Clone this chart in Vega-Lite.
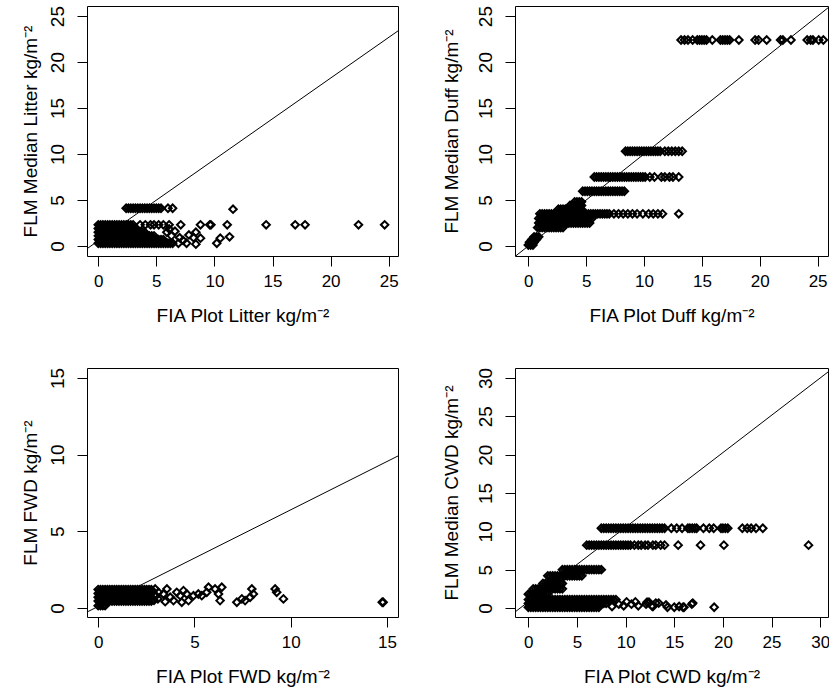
{
"$schema":"https://vega.github.io/schema/vega-lite/v6.json",
"background":"white",
"padding":{"left":20,"top":5,"right":0,"bottom":0},
"config":{"font":"Liberation Sans","view":{"stroke":"black","strokeWidth":1},
"axis":{"domain":false,"grid":false,"tickColor":"black","tickSize":10,"tickWidth":1,"labelColor":"black","labelFontSize":17,"titleColor":"black","titleFontSize":19,"titleFontWeight":"normal","labelFlush":false,"labelOverlap":false},
"axisX":{"labelPadding":7,"titlePadding":17},
"axisY":{"labelAngle":-90,"labelFontSize":19,"labelPadding":10,"titlePadding":8}},
"datasets":{
"litter":[
{"x":2.4,"y":4.1},{"x":2.6,"y":4.1},{"x":2.8,"y":4.1},{"x":3,"y":4.1},{"x":3.2,"y":4.1},{"x":3.4,"y":4.1},{"x":3.6,"y":4.1},{"x":3.8,"y":4.1},{"x":4,"y":4.1},{"x":4.2,"y":4.1},{"x":4.4,"y":4.1},{"x":4.6,"y":4.1},{"x":4.8,"y":4.1},{"x":5,"y":4.1},{"x":5.2,"y":4.1},{"x":5.4,"y":4.1},{"x":6,"y":4.1},{"x":6.4,"y":4.1},{"x":11.6,"y":4.0},
{"x":0,"y":2.3},{"x":0.2,"y":2.3},{"x":0.4,"y":2.3},{"x":0.6,"y":2.3},{"x":0.8,"y":2.3},{"x":1,"y":2.3},{"x":1.2,"y":2.3},{"x":1.4,"y":2.3},{"x":1.6,"y":2.3},{"x":1.8,"y":2.3},{"x":2,"y":2.3},{"x":2.2,"y":2.3},{"x":2.4,"y":2.3},{"x":2.6,"y":2.3},{"x":2.8,"y":2.3},{"x":3,"y":2.3},
{"x":3.6,"y":2.3},{"x":4.05,"y":2.3},{"x":4.5,"y":2.3},{"x":4.8,"y":2.3},{"x":5.2,"y":2.3},{"x":5.6,"y":2.3},{"x":6.1,"y":2.3},{"x":7.1,"y":2.3},{"x":8.8,"y":2.3},{"x":9.6,"y":2.3},{"x":9.7,"y":2.3},{"x":11.1,"y":2.3},{"x":14.45,"y":2.3},{"x":16.95,"y":2.3},{"x":17.8,"y":2.3},{"x":22.4,"y":2.3},{"x":24.65,"y":2.3},
{"x":0,"y":1.9},{"x":0.2,"y":1.9},{"x":0.4,"y":1.9},{"x":0.6,"y":1.9},{"x":0.8,"y":1.9},{"x":1,"y":1.9},{"x":1.2,"y":1.9},{"x":1.4,"y":1.9},{"x":1.6,"y":1.9},{"x":1.8,"y":1.9},{"x":2,"y":1.9},{"x":2.2,"y":1.9},{"x":2.4,"y":1.9},{"x":2.6,"y":1.9},{"x":2.8,"y":1.9},{"x":3,"y":1.9},{"x":3.2,"y":1.9},
{"x":0,"y":1.5},{"x":0.2,"y":1.5},{"x":0.4,"y":1.5},{"x":0.6,"y":1.5},{"x":0.8,"y":1.5},{"x":1,"y":1.5},{"x":1.2,"y":1.5},{"x":1.4,"y":1.5},{"x":1.6,"y":1.5},{"x":1.8,"y":1.5},{"x":2,"y":1.5},{"x":2.2,"y":1.5},{"x":2.4,"y":1.5},{"x":2.6,"y":1.5},{"x":2.8,"y":1.5},{"x":3,"y":1.5},{"x":3.2,"y":1.5},{"x":3.4,"y":1.5},{"x":3.6,"y":1.5},{"x":3.8,"y":1.5},{"x":4,"y":1.5},
{"x":0,"y":1.1},{"x":0.2,"y":1.1},{"x":0.4,"y":1.1},{"x":0.6,"y":1.1},{"x":0.8,"y":1.1},{"x":1,"y":1.1},{"x":1.2,"y":1.1},{"x":1.4,"y":1.1},{"x":1.6,"y":1.1},{"x":1.8,"y":1.1},{"x":2,"y":1.1},{"x":2.2,"y":1.1},{"x":2.4,"y":1.1},{"x":2.6,"y":1.1},{"x":2.8,"y":1.1},{"x":3,"y":1.1},{"x":3.2,"y":1.1},{"x":3.4,"y":1.1},{"x":3.6,"y":1.1},{"x":3.8,"y":1.1},{"x":4,"y":1.1},{"x":4.2,"y":1.1},{"x":4.4,"y":1.1},{"x":4.6,"y":1.1},{"x":4.8,"y":1.1},
{"x":0,"y":0.7},{"x":0.2,"y":0.7},{"x":0.4,"y":0.7},{"x":0.6,"y":0.7},{"x":0.8,"y":0.7},{"x":1,"y":0.7},{"x":1.2,"y":0.7},{"x":1.4,"y":0.7},{"x":1.6,"y":0.7},{"x":1.8,"y":0.7},{"x":2,"y":0.7},{"x":2.2,"y":0.7},{"x":2.4,"y":0.7},{"x":2.6,"y":0.7},{"x":2.8,"y":0.7},{"x":3,"y":0.7},{"x":3.2,"y":0.7},{"x":3.4,"y":0.7},{"x":3.6,"y":0.7},{"x":3.8,"y":0.7},{"x":4,"y":0.7},{"x":4.2,"y":0.7},{"x":4.4,"y":0.7},{"x":4.6,"y":0.7},{"x":4.8,"y":0.7},{"x":5,"y":0.7},{"x":5.2,"y":0.7},{"x":5.4,"y":0.7},{"x":5.6,"y":0.7},
{"x":0,"y":0.3},{"x":0.2,"y":0.3},{"x":0.4,"y":0.3},{"x":0.6,"y":0.3},{"x":0.8,"y":0.3},{"x":1,"y":0.3},{"x":1.2,"y":0.3},{"x":1.4,"y":0.3},{"x":1.6,"y":0.3},{"x":1.8,"y":0.3},{"x":2,"y":0.3},{"x":2.2,"y":0.3},{"x":2.4,"y":0.3},{"x":2.6,"y":0.3},{"x":2.8,"y":0.3},{"x":3,"y":0.3},{"x":3.2,"y":0.3},{"x":3.4,"y":0.3},{"x":3.6,"y":0.3},{"x":3.8,"y":0.3},{"x":4,"y":0.3},{"x":4.2,"y":0.3},{"x":4.4,"y":0.3},{"x":4.6,"y":0.3},{"x":4.8,"y":0.3},{"x":5,"y":0.3},{"x":5.2,"y":0.3},{"x":5.4,"y":0.3},{"x":5.6,"y":0.3},{"x":5.8,"y":0.3},{"x":6,"y":0.3},{"x":6.2,"y":0.3},{"x":6.4,"y":0.3},
{"x":5.9,"y":1.5},{"x":6.3,"y":1.1},{"x":6.6,"y":1.6},{"x":7,"y":0.9},{"x":7.3,"y":0.6},{"x":7.6,"y":0.3},{"x":7.8,"y":1.2},{"x":8.2,"y":0.9},{"x":8.4,"y":1.5},{"x":8.4,"y":0.2},{"x":8.8,"y":0.85},{"x":10.2,"y":0.3},{"x":10.5,"y":0.85},{"x":11.3,"y":1.0},{"x":6.9,"y":0.3},{"x":6.1,"y":1.85}
],
"duff":[
{"x":13.2,"y":22.4},{"x":13.5,"y":22.4},{"x":13.8,"y":22.4},{"x":14.2,"y":22.4},{"x":14.6,"y":22.4},{"x":14.8,"y":22.4},{"x":15,"y":22.4},{"x":15.2,"y":22.4},{"x":15.4,"y":22.4},{"x":15.9,"y":22.4},{"x":16.6,"y":22.4},{"x":16.8,"y":22.4},{"x":17,"y":22.4},{"x":17.2,"y":22.4},{"x":17.4,"y":22.4},{"x":18.2,"y":22.4},{"x":19.6,"y":22.4},{"x":19.9,"y":22.4},{"x":20.6,"y":22.4},{"x":21.8,"y":22.4},{"x":22,"y":22.4},{"x":22.7,"y":22.4},{"x":24.1,"y":22.4},{"x":24.4,"y":22.4},{"x":24.6,"y":22.4},{"x":25.1,"y":22.4},{"x":25.5,"y":22.4},
{"x":8.4,"y":10.3},{"x":8.6,"y":10.3},{"x":8.8,"y":10.3},{"x":9,"y":10.3},{"x":9.2,"y":10.3},{"x":9.4,"y":10.3},{"x":9.6,"y":10.3},{"x":9.8,"y":10.3},{"x":10,"y":10.3},{"x":10.2,"y":10.3},{"x":10.4,"y":10.3},{"x":10.6,"y":10.3},{"x":10.8,"y":10.3},{"x":11,"y":10.3},{"x":11.2,"y":10.3},{"x":11.4,"y":10.3},{"x":11.8,"y":10.3},{"x":12.1,"y":10.3},{"x":12.4,"y":10.3},{"x":12.7,"y":10.3},{"x":13,"y":10.3},{"x":13.3,"y":10.3},
{"x":5.7,"y":7.5},{"x":5.9,"y":7.5},{"x":6.1,"y":7.5},{"x":6.3,"y":7.5},{"x":6.5,"y":7.5},{"x":6.7,"y":7.5},{"x":6.9,"y":7.5},{"x":7.1,"y":7.5},{"x":7.3,"y":7.5},{"x":7.5,"y":7.5},{"x":7.7,"y":7.5},{"x":7.9,"y":7.5},{"x":8.1,"y":7.5},{"x":8.3,"y":7.5},{"x":8.5,"y":7.5},{"x":8.7,"y":7.5},{"x":8.9,"y":7.5},{"x":9.1,"y":7.5},{"x":9.3,"y":7.5},{"x":9.5,"y":7.5},{"x":9.7,"y":7.5},{"x":9.9,"y":7.5},{"x":10.1,"y":7.5},{"x":10.5,"y":7.5},{"x":10.9,"y":7.5},{"x":11.5,"y":7.5},{"x":11.8,"y":7.5},{"x":12.2,"y":7.5},{"x":12.5,"y":7.5},{"x":13,"y":7.5},
{"x":4.7,"y":5.95},{"x":4.9,"y":5.95},{"x":5.1,"y":5.95},{"x":5.3,"y":5.95},{"x":5.5,"y":5.95},{"x":5.7,"y":5.95},{"x":5.9,"y":5.95},{"x":6.1,"y":5.95},{"x":6.3,"y":5.95},{"x":6.5,"y":5.95},{"x":6.7,"y":5.95},{"x":6.9,"y":5.95},{"x":7.1,"y":5.95},{"x":7.3,"y":5.95},{"x":7.5,"y":5.95},{"x":7.7,"y":5.95},{"x":7.9,"y":5.95},{"x":8.1,"y":5.95},{"x":8.3,"y":5.95},
{"x":4,"y":4.8},{"x":4.2,"y":4.8},{"x":4.4,"y":4.8},{"x":4.6,"y":4.8},
{"x":3.6,"y":4.4},{"x":3.8,"y":4.4},{"x":4,"y":4.4},{"x":4.2,"y":4.4},{"x":4.4,"y":4.4},{"x":4.6,"y":4.4},
{"x":2.6,"y":4.0},{"x":2.8,"y":4.0},{"x":3,"y":4.0},{"x":3.2,"y":4.0},{"x":3.4,"y":4.0},{"x":3.6,"y":4.0},{"x":3.8,"y":4.0},{"x":4,"y":4.0},{"x":4.2,"y":4.0},{"x":4.4,"y":4.0},{"x":4.6,"y":4.0},
{"x":1,"y":3.5},{"x":1.2,"y":3.5},{"x":1.4,"y":3.5},{"x":1.6,"y":3.5},{"x":1.8,"y":3.5},{"x":2,"y":3.5},{"x":2.2,"y":3.5},{"x":2.4,"y":3.5},{"x":2.6,"y":3.5},{"x":2.8,"y":3.5},{"x":3,"y":3.5},{"x":3.2,"y":3.5},{"x":3.4,"y":3.5},{"x":3.6,"y":3.5},{"x":3.8,"y":3.5},{"x":4,"y":3.5},{"x":4.2,"y":3.5},{"x":4.4,"y":3.5},{"x":4.6,"y":3.5},{"x":4.8,"y":3.5},{"x":5,"y":3.5},{"x":5.2,"y":3.5},{"x":5.4,"y":3.5},{"x":5.6,"y":3.5},{"x":5.8,"y":3.5},{"x":6,"y":3.5},{"x":6.2,"y":3.5},{"x":6.4,"y":3.5},{"x":6.6,"y":3.5},{"x":6.8,"y":3.5},{"x":7,"y":3.5},
{"x":7.4,"y":3.5},{"x":7.8,"y":3.5},{"x":8.2,"y":3.5},{"x":8.6,"y":3.5},{"x":9,"y":3.5},{"x":9.4,"y":3.5},{"x":9.9,"y":3.5},{"x":10.4,"y":3.5},{"x":10.8,"y":3.5},{"x":11.2,"y":3.5},{"x":11.6,"y":3.5},{"x":13,"y":3.5},
{"x":0.9,"y":3.0},{"x":1.1,"y":3.0},{"x":1.3,"y":3.0},{"x":1.5,"y":3.0},{"x":1.7,"y":3.0},{"x":1.9,"y":3.0},{"x":2.1,"y":3.0},{"x":2.3,"y":3.0},{"x":2.5,"y":3.0},{"x":2.7,"y":3.0},{"x":2.9,"y":3.0},{"x":3.1,"y":3.0},{"x":3.3,"y":3.0},{"x":3.5,"y":3.0},{"x":3.7,"y":3.0},{"x":3.9,"y":3.0},{"x":4.1,"y":3.0},{"x":4.3,"y":3.0},{"x":4.5,"y":3.0},{"x":4.7,"y":3.0},{"x":4.9,"y":3.0},{"x":5.1,"y":3.0},{"x":5.3,"y":3.0},{"x":5.5,"y":3.0},
{"x":0.9,"y":2.5},{"x":1.1,"y":2.5},{"x":1.3,"y":2.5},{"x":1.5,"y":2.5},{"x":1.7,"y":2.5},{"x":1.9,"y":2.5},{"x":2.1,"y":2.5},{"x":2.3,"y":2.5},{"x":2.5,"y":2.5},{"x":2.7,"y":2.5},{"x":2.9,"y":2.5},{"x":3.1,"y":2.5},{"x":3.3,"y":2.5},{"x":3.5,"y":2.5},{"x":3.7,"y":2.5},{"x":3.9,"y":2.5},{"x":4.1,"y":2.5},{"x":4.3,"y":2.5},{"x":4.5,"y":2.5},{"x":4.7,"y":2.5},{"x":4.9,"y":2.5},{"x":5.1,"y":2.5},{"x":5.3,"y":2.5},
{"x":0.8,"y":2.0},{"x":1,"y":2.0},{"x":1.2,"y":2.0},{"x":1.4,"y":2.0},{"x":1.6,"y":2.0},{"x":1.8,"y":2.0},{"x":2,"y":2.0},{"x":2.2,"y":2.0},{"x":2.4,"y":2.0},{"x":2.6,"y":2.0},{"x":2.8,"y":2.0},{"x":3,"y":2.0},
{"x":0.5,"y":1.0},{"x":0.7,"y":1.0},{"x":0.9,"y":1.0},{"x":0.3,"y":0.7},{"x":0.5,"y":0.7},{"x":0.7,"y":0.7},{"x":0.1,"y":0.4},{"x":0.3,"y":0.4},{"x":0.5,"y":0.4},{"x":0,"y":0.1},{"x":0.2,"y":0.1},{"x":0.4,"y":0.1}
],
"fwd":[
{"x":0,"y":1.2},{"x":0.12,"y":1.2},{"x":0.24,"y":1.2},{"x":0.36,"y":1.2},{"x":0.48,"y":1.2},{"x":0.6,"y":1.2},{"x":0.72,"y":1.2},{"x":0.84,"y":1.2},{"x":0.96,"y":1.2},{"x":1.08,"y":1.2},{"x":1.2,"y":1.2},{"x":1.32,"y":1.2},{"x":1.44,"y":1.2},{"x":1.56,"y":1.2},{"x":1.68,"y":1.2},{"x":1.8,"y":1.2},{"x":1.92,"y":1.2},{"x":2.04,"y":1.2},{"x":2.16,"y":1.2},{"x":2.28,"y":1.2},{"x":2.4,"y":1.2},{"x":2.52,"y":1.2},{"x":2.64,"y":1.2},{"x":2.76,"y":1.2},
{"x":0,"y":0.95},{"x":0.12,"y":0.95},{"x":0.24,"y":0.95},{"x":0.36,"y":0.95},{"x":0.48,"y":0.95},{"x":0.6,"y":0.95},{"x":0.72,"y":0.95},{"x":0.84,"y":0.95},{"x":0.96,"y":0.95},{"x":1.08,"y":0.95},{"x":1.2,"y":0.95},{"x":1.32,"y":0.95},{"x":1.44,"y":0.95},{"x":1.56,"y":0.95},{"x":1.68,"y":0.95},{"x":1.8,"y":0.95},{"x":1.92,"y":0.95},{"x":2.04,"y":0.95},{"x":2.16,"y":0.95},{"x":2.28,"y":0.95},{"x":2.4,"y":0.95},{"x":2.52,"y":0.95},{"x":2.64,"y":0.95},{"x":2.76,"y":0.95},
{"x":0,"y":0.7},{"x":0.12,"y":0.7},{"x":0.24,"y":0.7},{"x":0.36,"y":0.7},{"x":0.48,"y":0.7},{"x":0.6,"y":0.7},{"x":0.72,"y":0.7},{"x":0.84,"y":0.7},{"x":0.96,"y":0.7},{"x":1.08,"y":0.7},{"x":1.2,"y":0.7},{"x":1.32,"y":0.7},{"x":1.44,"y":0.7},{"x":1.56,"y":0.7},{"x":1.68,"y":0.7},{"x":1.8,"y":0.7},{"x":1.92,"y":0.7},{"x":2.04,"y":0.7},{"x":2.16,"y":0.7},{"x":2.28,"y":0.7},{"x":2.4,"y":0.7},{"x":2.52,"y":0.7},{"x":2.64,"y":0.7},{"x":2.76,"y":0.7},
{"x":0,"y":0.45},{"x":0.12,"y":0.45},{"x":0.24,"y":0.45},{"x":0.36,"y":0.45},{"x":0.48,"y":0.45},{"x":0.6,"y":0.45},{"x":0.72,"y":0.45},{"x":0.84,"y":0.45},{"x":0.96,"y":0.45},{"x":1.08,"y":0.45},{"x":1.2,"y":0.45},{"x":1.32,"y":0.45},{"x":1.44,"y":0.45},{"x":1.56,"y":0.45},{"x":1.68,"y":0.45},{"x":1.8,"y":0.45},{"x":1.92,"y":0.45},{"x":2.04,"y":0.45},{"x":2.16,"y":0.45},{"x":2.28,"y":0.45},{"x":2.4,"y":0.45},{"x":2.52,"y":0.45},{"x":2.64,"y":0.45},{"x":2.76,"y":0.45},
{"x":0,"y":0.15},{"x":0.12,"y":0.15},{"x":0.24,"y":0.15},{"x":0.36,"y":0.15},
{"x":2.96,"y":1.24},{"x":3.13,"y":1.02},{"x":3.39,"y":0.91},{"x":3.57,"y":1.24},{"x":3.74,"y":0.7},{"x":3.48,"y":0.41},{"x":3.91,"y":0.48},{"x":4.08,"y":1.02},{"x":4.26,"y":0.8},{"x":4.43,"y":1.13},{"x":4.6,"y":0.91},{"x":4.69,"y":0.48},{"x":4.34,"y":0.37},{"x":4.95,"y":0.8},{"x":5.2,"y":0.91},{"x":5.38,"y":0.8},{"x":5.64,"y":1.02},{"x":5.73,"y":1.35},{"x":6.07,"y":1.24},{"x":6.25,"y":0.91},{"x":6.33,"y":0.48},{"x":6.42,"y":1.35},{"x":7.2,"y":0.37},{"x":7.46,"y":0.59},{"x":7.63,"y":0.48},{"x":7.89,"y":0.7},{"x":7.98,"y":1.24},{"x":8.06,"y":0.91},{"x":9.19,"y":1.24},{"x":9.27,"y":1.02},{"x":9.62,"y":0.59},{"x":14.75,"y":0.37},{"x":14.8,"y":0.37},{"x":2.9,"y":0.5},{"x":3,"y":0.8},{"x":3.1,"y":0.6}
],
"cwd":[
{"x":7.5,"y":10.4},{"x":7.75,"y":10.4},{"x":8,"y":10.4},{"x":8.25,"y":10.4},{"x":8.5,"y":10.4},{"x":8.75,"y":10.4},{"x":9,"y":10.4},{"x":9.25,"y":10.4},{"x":9.5,"y":10.4},{"x":9.75,"y":10.4},{"x":10,"y":10.4},{"x":10.25,"y":10.4},{"x":10.5,"y":10.4},{"x":10.75,"y":10.4},{"x":11,"y":10.4},{"x":11.25,"y":10.4},{"x":11.5,"y":10.4},{"x":11.75,"y":10.4},{"x":12,"y":10.4},{"x":12.25,"y":10.4},{"x":12.5,"y":10.4},{"x":12.75,"y":10.4},{"x":13,"y":10.4},{"x":13.25,"y":10.4},{"x":13.5,"y":10.4},{"x":13.75,"y":10.4},{"x":14,"y":10.4},
{"x":14.7,"y":10.4},{"x":15.25,"y":10.4},{"x":15.8,"y":10.4},{"x":16.4,"y":10.4},{"x":16.6,"y":10.4},{"x":16.85,"y":10.4},{"x":17.1,"y":10.4},{"x":17.3,"y":10.4},{"x":18,"y":10.4},{"x":18.6,"y":10.4},{"x":19.05,"y":10.4},{"x":19.8,"y":10.4},{"x":20,"y":10.4},{"x":20.25,"y":10.4},{"x":20.5,"y":10.4},{"x":22,"y":10.4},{"x":22.5,"y":10.4},{"x":22.9,"y":10.4},{"x":23.4,"y":10.4},{"x":24.1,"y":10.4},
{"x":6,"y":8.2},{"x":6.25,"y":8.2},{"x":6.5,"y":8.2},{"x":6.75,"y":8.2},{"x":7,"y":8.2},{"x":7.25,"y":8.2},{"x":7.5,"y":8.2},{"x":7.75,"y":8.2},{"x":8,"y":8.2},{"x":8.25,"y":8.2},{"x":8.5,"y":8.2},{"x":8.75,"y":8.2},{"x":9,"y":8.2},{"x":9.25,"y":8.2},{"x":9.5,"y":8.2},{"x":9.75,"y":8.2},{"x":10,"y":8.2},{"x":10.25,"y":8.2},{"x":10.5,"y":8.2},
{"x":10.9,"y":8.2},{"x":11.3,"y":8.2},{"x":11.6,"y":8.2},{"x":12,"y":8.2},{"x":12.3,"y":8.2},{"x":12.8,"y":8.2},{"x":13.1,"y":8.2},{"x":13.6,"y":8.2},{"x":14,"y":8.2},{"x":15.4,"y":8.2},{"x":17.7,"y":8.2},{"x":20.1,"y":8.2},{"x":28.8,"y":8.2},
{"x":3.5,"y":5.0},{"x":3.75,"y":5.0},{"x":4,"y":5.0},{"x":4.25,"y":5.0},{"x":4.5,"y":5.0},{"x":4.75,"y":5.0},{"x":5,"y":5.0},{"x":5.25,"y":5.0},{"x":5.5,"y":5.0},{"x":5.75,"y":5.0},{"x":6,"y":5.0},{"x":6.25,"y":5.0},{"x":6.5,"y":5.0},{"x":6.75,"y":5.0},{"x":7,"y":5.0},{"x":7.25,"y":5.0},{"x":7.5,"y":5.0},
{"x":2,"y":4.2},{"x":2.25,"y":4.2},{"x":2.5,"y":4.2},{"x":2.75,"y":4.2},{"x":3,"y":4.2},{"x":3.25,"y":4.2},{"x":3.5,"y":4.2},{"x":3.75,"y":4.2},{"x":4,"y":4.2},{"x":4.25,"y":4.2},{"x":4.5,"y":4.2},{"x":4.75,"y":4.2},{"x":5,"y":4.2},{"x":5.25,"y":4.2},{"x":5.5,"y":4.2},
{"x":1.5,"y":3.2},{"x":1.75,"y":3.2},{"x":2,"y":3.2},{"x":2.25,"y":3.2},{"x":2.5,"y":3.2},{"x":2.75,"y":3.2},{"x":3,"y":3.2},{"x":3.25,"y":3.2},{"x":3.5,"y":3.2},
{"x":0.5,"y":2.5},{"x":0.75,"y":2.5},{"x":1,"y":2.5},{"x":1.25,"y":2.5},{"x":1.5,"y":2.5},{"x":1.75,"y":2.5},{"x":2,"y":2.5},{"x":2.25,"y":2.5},{"x":2.5,"y":2.5},{"x":2.75,"y":2.5},{"x":3,"y":2.5},{"x":3.25,"y":2.5},{"x":3.5,"y":2.5},
{"x":0,"y":1.8},{"x":0.25,"y":1.8},{"x":0.5,"y":1.8},{"x":0.75,"y":1.8},{"x":1,"y":1.8},{"x":1.25,"y":1.8},{"x":1.5,"y":1.8},{"x":1.75,"y":1.8},{"x":2,"y":1.8},
{"x":0,"y":1.1},{"x":0.25,"y":1.1},{"x":0.5,"y":1.1},{"x":0.75,"y":1.1},{"x":1,"y":1.1},{"x":1.25,"y":1.1},{"x":1.5,"y":1.1},{"x":1.75,"y":1.1},{"x":2,"y":1.1},{"x":2.25,"y":1.1},{"x":2.5,"y":1.1},{"x":2.75,"y":1.1},{"x":3,"y":1.1},{"x":3.25,"y":1.1},{"x":3.5,"y":1.1},{"x":3.75,"y":1.1},{"x":4,"y":1.1},{"x":4.25,"y":1.1},{"x":4.5,"y":1.1},{"x":4.75,"y":1.1},{"x":5,"y":1.1},{"x":5.25,"y":1.1},{"x":5.5,"y":1.1},{"x":5.75,"y":1.1},{"x":6,"y":1.1},{"x":6.25,"y":1.1},{"x":6.5,"y":1.1},{"x":6.75,"y":1.1},{"x":7,"y":1.1},{"x":7.25,"y":1.1},{"x":7.5,"y":1.1},{"x":7.75,"y":1.1},{"x":8,"y":1.1},{"x":8.25,"y":1.1},{"x":8.5,"y":1.1},{"x":8.75,"y":1.1},{"x":9,"y":1.1},
{"x":0,"y":0.6},{"x":0.25,"y":0.6},{"x":0.5,"y":0.6},{"x":0.75,"y":0.6},{"x":1,"y":0.6},{"x":1.25,"y":0.6},{"x":1.5,"y":0.6},{"x":1.75,"y":0.6},{"x":2,"y":0.6},{"x":2.25,"y":0.6},{"x":2.5,"y":0.6},{"x":2.75,"y":0.6},{"x":3,"y":0.6},{"x":3.25,"y":0.6},{"x":3.5,"y":0.6},{"x":3.75,"y":0.6},{"x":4,"y":0.6},{"x":4.25,"y":0.6},{"x":4.5,"y":0.6},{"x":4.75,"y":0.6},{"x":5,"y":0.6},{"x":5.25,"y":0.6},{"x":5.5,"y":0.6},{"x":5.75,"y":0.6},{"x":6,"y":0.6},{"x":6.25,"y":0.6},{"x":6.5,"y":0.6},{"x":6.75,"y":0.6},{"x":7,"y":0.6},{"x":7.25,"y":0.6},{"x":7.5,"y":0.6},{"x":7.75,"y":0.6},{"x":8,"y":0.6},
{"x":0,"y":0.1},{"x":0.25,"y":0.1},{"x":0.5,"y":0.1},{"x":0.75,"y":0.1},{"x":1,"y":0.1},{"x":1.25,"y":0.1},{"x":1.5,"y":0.1},{"x":1.75,"y":0.1},{"x":2,"y":0.1},{"x":2.25,"y":0.1},{"x":2.5,"y":0.1},{"x":2.75,"y":0.1},{"x":3,"y":0.1},{"x":3.25,"y":0.1},{"x":3.5,"y":0.1},{"x":3.75,"y":0.1},{"x":4,"y":0.1},{"x":4.25,"y":0.1},{"x":4.5,"y":0.1},{"x":4.75,"y":0.1},{"x":5,"y":0.1},{"x":5.25,"y":0.1},{"x":5.5,"y":0.1},{"x":5.75,"y":0.1},{"x":6,"y":0.1},{"x":6.25,"y":0.1},{"x":6.5,"y":0.1},{"x":6.75,"y":0.1},{"x":7,"y":0.1},{"x":7.25,"y":0.1},
{"x":8.6,"y":0.2},{"x":9.3,"y":0.5},{"x":9.8,"y":0.3},{"x":10.1,"y":0.8},{"x":10.6,"y":0.5},{"x":11,"y":0.8},{"x":11.3,"y":0.3},{"x":12.1,"y":0.5},{"x":12.2,"y":0.75},{"x":12.4,"y":0.75},{"x":12.7,"y":0.3},{"x":12.8,"y":0.2},{"x":13.1,"y":0.65},{"x":13.4,"y":0.65},{"x":14.15,"y":0.4},{"x":14.3,"y":0.1},{"x":15,"y":0.1},{"x":15.5,"y":0.2},{"x":15.9,"y":0.1},{"x":16,"y":0.1},{"x":16.8,"y":0.5},{"x":16.9,"y":0.65},{"x":19.1,"y":0.1}
],
"litterLine":[{"x":-1,"y":-0.325},{"x":26,"y":23.57}],
"duffLine":[{"x":-1.2,"y":-1.2},{"x":26,"y":26}],
"fwdLine":[{"x":-0.6,"y":-0.28},{"x":15.6,"y":9.93}],
"cwdLine":[{"x":-1.4,"y":-0.55},{"x":30.8,"y":30.78}]
},
"columns":2,
"spacing":{"row":112,"column":117},
"bounds":"flush",
"concat":[
{"width":311,"height":250,"layer":[
{"data":{"name":"litter"},"mark":{"type":"point","shape":"diamond","filled":false,"size":56,"color":"black","strokeWidth":2,"opacity":1,"clip":true},
"encoding":{"x":{"field":"x","type":"quantitative","scale":{"domain":[-0.97,25.8],"nice":false,"zero":false},"axis":{"values":[0,5,10,15,20,25],"title":"FIA Plot Litter kg/m⁻²"}},
"y":{"field":"y","type":"quantitative","scale":{"domain":[-1.09,26.1],"nice":false,"zero":false},"axis":{"values":[0,5,10,15,20,25],"title":"FLM Median Litter kg/m⁻²"}}}},
{"data":{"name":"litterLine"},"mark":{"type":"line","color":"black","strokeWidth":1,"clip":true},
"encoding":{"x":{"field":"x","type":"quantitative","scale":{"domain":[-0.97,25.8],"nice":false,"zero":false}},"y":{"field":"y","type":"quantitative","scale":{"domain":[-1.09,26.1],"nice":false,"zero":false}}}}
]},
{"width":313,"height":250,"layer":[
{"data":{"name":"duff"},"mark":{"type":"point","shape":"diamond","filled":false,"size":56,"color":"black","strokeWidth":2,"opacity":1,"clip":true},
"encoding":{"x":{"field":"x","type":"quantitative","scale":{"domain":[-1.15,25.9],"nice":false,"zero":false},"axis":{"values":[0,5,10,15,20,25],"title":"FIA Plot Duff kg/m⁻²"}},
"y":{"field":"y","type":"quantitative","scale":{"domain":[-1.09,26.1],"nice":false,"zero":false},"axis":{"values":[0,5,10,15,20,25],"title":"FLM Median Duff kg/m⁻²","titlePadding":15}}}},
{"data":{"name":"duffLine"},"mark":{"type":"line","color":"black","strokeWidth":1,"clip":true},
"encoding":{"x":{"field":"x","type":"quantitative","scale":{"domain":[-1.15,25.9],"nice":false,"zero":false}},"y":{"field":"y","type":"quantitative","scale":{"domain":[-1.09,26.1],"nice":false,"zero":false}}}}
]},
{"width":311,"height":249,"layer":[
{"data":{"name":"fwd"},"mark":{"type":"point","shape":"diamond","filled":false,"size":56,"color":"black","strokeWidth":2,"opacity":1,"clip":true},
"encoding":{"x":{"field":"x","type":"quantitative","scale":{"domain":[-0.58,15.57],"nice":false,"zero":false},"axis":{"values":[0,5,10,15],"title":"FIA Plot FWD kg/m⁻²"}},
"y":{"field":"y","type":"quantitative","scale":{"domain":[-0.59,15.65],"nice":false,"zero":false},"axis":{"values":[0,5,10,15],"title":"FLM FWD kg/m⁻²"}}}},
{"data":{"name":"fwdLine"},"mark":{"type":"line","color":"black","strokeWidth":1,"clip":true},
"encoding":{"x":{"field":"x","type":"quantitative","scale":{"domain":[-0.58,15.57],"nice":false,"zero":false}},"y":{"field":"y","type":"quantitative","scale":{"domain":[-0.59,15.65],"nice":false,"zero":false}}}}
]},
{"width":313,"height":249,"layer":[
{"data":{"name":"cwd"},"mark":{"type":"point","shape":"diamond","filled":false,"size":56,"color":"black","strokeWidth":2,"opacity":1,"clip":true},
"encoding":{"x":{"field":"x","type":"quantitative","scale":{"domain":[-1.37,30.8],"nice":false,"zero":false},"axis":{"values":[0,5,10,15,20,25,30],"title":"FIA Plot CWD kg/m⁻²"}},
"y":{"field":"y","type":"quantitative","scale":{"domain":[-1.17,31.3],"nice":false,"zero":false},"axis":{"values":[0,5,10,15,20,25,30],"title":"FLM Median CWD kg/m⁻²","titlePadding":15}}}},
{"data":{"name":"cwdLine"},"mark":{"type":"line","color":"black","strokeWidth":1,"clip":true},
"encoding":{"x":{"field":"x","type":"quantitative","scale":{"domain":[-1.37,30.8],"nice":false,"zero":false}},"y":{"field":"y","type":"quantitative","scale":{"domain":[-1.17,31.3],"nice":false,"zero":false}}}}
]}
]
}
